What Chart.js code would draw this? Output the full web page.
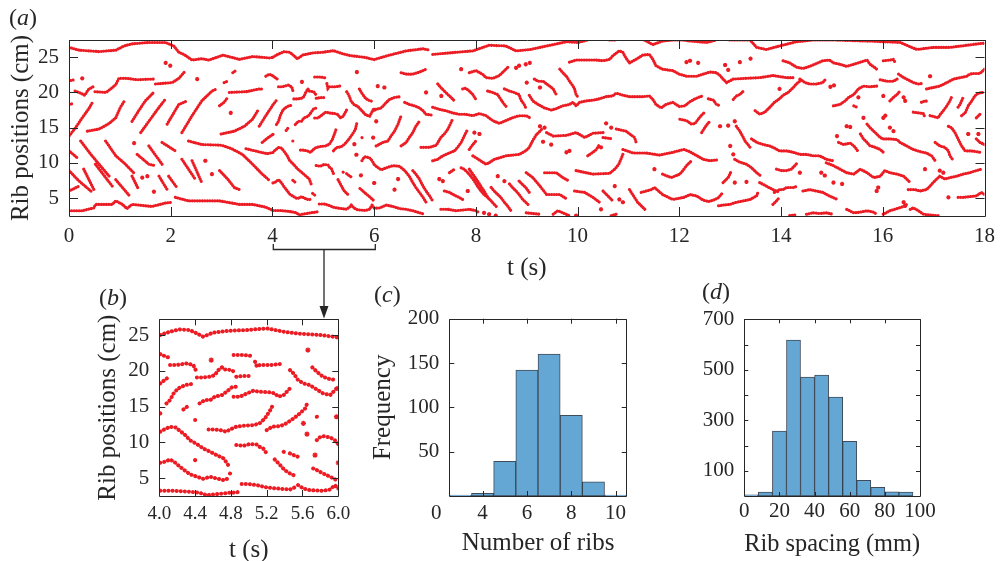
<!DOCTYPE html>
<html>
<head>
<meta charset="utf-8">
<title>Rib positions</title>
<script src="https://cdn.jsdelivr.net/npm/chart.js@4.4.1/dist/chart.umd.min.js"></script>
<style>
  html, body { margin: 0; padding: 0; background: #fff; }
  #fig { position: relative; width: 1003px; height: 561px; overflow: hidden; font-family: 'Liberation Serif', 'Times New Roman', serif; color: #262626; }
  #fig canvas { position: absolute; }
  .panel { position: absolute; font-size: 24px; line-height: 1; white-space: nowrap; }
  #fig svg { position: absolute; left: 0; top: 0; }
</style>
</head>
<body>
<div id="fig">
  <canvas id="ribsAll" width="1003" height="290" style="left:0;top:0"></canvas>
  <canvas id="ribsZoom" width="280" height="295" style="left:80px;top:280px"></canvas>
  <canvas id="ribCount" width="310" height="295" style="left:360px;top:280px"></canvas>
  <canvas id="ribSpacing" width="333" height="295" style="left:670px;top:280px"></canvas>
  <svg width="1003" height="561">
    <polyline points="273.3,244 273.3,249.5 375.3,249.5 375.3,244" fill="none" stroke="#262626" stroke-width="1.3"/>
    <line x1="324" y1="249.5" x2="324" y2="308" stroke="#262626" stroke-width="1.3"/>
    <polygon points="319.5,306 328.5,306 324,318.5" fill="#262626"/>
  </svg>
  <div class="panel" style="left:9px;top:5px">(<i>a</i>)</div>
  <div class="panel" style="left:99px;top:285px">(<i>b</i>)</div>
  <div class="panel" style="left:374px;top:282px">(<i>c</i>)</div>
  <div class="panel" style="left:702px;top:279px">(<i>d</i>)</div>
</div>
<script>
// rib tracks, [t (s), position (cm)]; one-point tracks are lone markers
const ribTracks0to4 = [
  [[0,26.4],[0.2,26.0],[0.59,25.8],[0.92,26.0],[1.08,26.6],[1.24,26.9],[1.57,27.1],[1.9,27.1],[2.06,26.6],[2.16,25.7],[2.26,25.4],[2.42,24.6],[2.61,24.8],[2.75,24.6],[3.03,25.3],[3.35,24.7],[3.61,25.1],[3.94,24.9],[4.01,25.0]],
  [[1.9,24.2]], [[1.99,23.8]],
  [[0.03,21.7],[0.1,21.8]], [[0.26,22.0]],
  [[0.12,20.2],[0.23,19.9],[0.31,19.6],[0.38,20.4],[0.47,20.8]],
  [[0.51,20.1],[0.73,20.0],[0.82,20.5],[0.92,21.1],[0.98,22.0],[1.14,22.0],[1.34,21.8],[1.67,21.9]],
  [[1.7,21.2],[2.03,21.4],[2.16,22.0],[2.28,23.0]],
  [[0,18.3],[0.07,18.4]],
  [[0,13.8],[0.13,15.0],[0.26,16.4],[0.39,17.7],[0.47,18.7]],
  [[0.36,14.5],[0.59,14.8],[0.79,15.6],[0.92,16.4],[1.01,17.9],[1.1,18.9]],
  [[1.24,15.9],[1.37,17.4],[1.5,18.8],[1.65,19.9]],
  [[1.41,14.3],[1.57,15.9],[1.73,17.5],[1.9,19.1]],
  [[1.93,15.5],[2.06,17.1],[2.16,18.3],[2.29,18.7]],
  [[2.22,14.3],[2.42,16.7],[2.61,18.8],[2.81,20.2],[2.9,20.5]],
  [[2.52,21.9]],
  [[0,11.7],[0.18,10.6]],
  [[0.23,13.1],[0.43,11.2],[0.65,9.3],[0.79,8.1]],
  [[0.72,13.1],[0.92,11.0],[1.11,9.8],[1.27,8.6]],
  [[0.52,9.8],[0.85,6.7]],
  [[0,8.9],[0.2,7.4],[0.46,5.8]],
  [[0,6.0],[0.2,6.7]],
  [[0.29,9.1],[0.49,6.2]],
  [[0.92,7.6],[1.18,5.4]],
  [[1.34,11.2],[1.57,9.8],[1.7,9.6]],
  [[1.57,12.4],[1.83,9.8]],
  [[1.83,12.9],[2.09,11.7]],
  [[2.22,10.5],[2.48,7.7]],
  [[2.35,13.1],[2.61,12.6],[3.0,12.5],[3.2,12.0],[3.41,11.2],[3.61,9.8],[3.8,8.4],[3.94,7.5]],
  [[1.24,8.1],[1.37,6.2]],
  [[1.77,8.1],[1.93,6.2]],
  [[1.96,8.1],[2.12,6.5]],
  [[2.42,10.3],[2.61,7.2]],
  [[1.28,12.8]], [[1.67,5.9]], [[1.44,7.9]], [[1.54,8.1]], [[2.68,10.3]], [[2.81,8.4]],
  [[0,3.2],[0.26,3.2],[0.49,3.6],[0.52,4.1],[0.85,4.1],[0.92,4.6],[1.05,4.1],[1.14,3.5],[1.24,4.1],[1.63,3.8],[1.9,4.3],[2.03,4.4]],
  [[2.09,5.1],[2.35,4.6],[2.68,4.6],[2.96,4.6],[3.35,4.1],[3.61,4.1],[3.87,3.7],[4.01,3.23]],
  [[3.05,21.4],[3.12,21.6]],
  [[3.22,22.8],[3.28,23.1]],
  [[3.15,20.0],[3.48,20.1],[3.74,20.5],[3.8,20.5]],
  [[2.96,18.1],[3.05,18.6],[3.12,19.3]],
  [[3.87,22.3],[3.94,22.6],[4.01,22.34]],
  [[3.18,17.1]],
  [[2.99,14.1],[3.25,14.5],[3.45,15.2],[3.61,16.2],[3.71,17.4]],
  [[3.74,15.2],[3.87,16.7],[4.01,18.24]],
  [[3.8,12.9],[3.9,13.5],[4.01,14.04]],
  [[3.48,12.0],[3.77,11.5],[3.9,11.3],[4.01,11.48]],
  [[2.96,8.9],[3.12,7.7],[3.25,6.5],[3.35,6.2]]
];

const ribTracks4to6 = [
  [[4.01,25.0],[4.12,25.47],[4.23,25.79],[4.34,25.7],[4.42,25.23],[4.49,24.77],[4.6,25.33],[4.79,25.61],[4.98,25.7],[5.2,25.93],[5.39,25.47],[5.53,25.23],[5.8,25.0],[6.0,24.67]],
  [[4.01,22.34],[4.06,22.06],[4.1,21.88]],
  [[4.12,20.8],[4.19,20.8],[4.31,21.04],[4.38,20.8],[4.41,20.01]],
  [[4.01,18.24],[4.06,18.71],[4.1,19.08]],
  [[4.08,15.44],[4.12,15.91],[4.16,16.84],[4.21,17.54],[4.29,18.01],[4.36,18.15]],
  [[4.27,14.6],[4.32,15.07]],
  [[4.4,13.11],[4.44,13.11]],
  [[4.01,14.04],[4.04,14.28]],
  [[4.42,19.08],[4.49,19.08],[4.57,19.17],[4.62,19.41],[4.66,20.1],[4.7,20.48]],
  [[4.58,21.5]],
  [[4.7,20.48],[4.72,20.2],[4.81,20.1],[4.85,19.73]],
  [[4.83,22.2],[4.94,22.2],[5.05,22.06]],
  [[5.07,21.27],[5.09,20.57],[5.12,20.8],[5.24,20.8],[5.35,20.94]],
  [[4.45,15.44],[4.51,15.91],[4.57,15.91],[4.62,16.38],[4.7,16.61],[4.75,17.07],[4.81,17.68],[4.86,17.77]],
  [[4.83,16.38],[4.9,16.38],[4.98,16.84],[5.05,17.21],[5.12,17.07],[5.24,16.98],[5.29,16.84],[5.33,16.38],[5.39,16.61],[5.46,17.54]],
  [[4.86,19.17],[4.94,19.27],[5.03,19.27]],
  [[4.55,11.81],[4.6,11.81],[4.68,11.71],[4.75,11.48],[4.79,11.81],[4.86,12.18],[4.94,12.32],[5.05,12.41],[5.12,12.65],[5.18,13.34],[5.24,14.51],[5.26,14.98]],
  [[5.2,11.71],[5.26,12.18],[5.35,12.27],[5.42,12.65],[5.5,13.34],[5.57,14.04],[5.63,14.74],[5.66,15.68]],
  [[5.46,20.1],[5.5,19.64],[5.55,18.71],[5.61,18.24],[5.68,18.01],[5.74,17.54],[5.83,16.84],[5.91,16.61],[5.98,17.54]],
  [[5.66,22.9]],
  [[5.71,20.48],[5.76,19.87],[5.83,19.17],[5.89,18.89],[5.97,18.71]],
  [[5.76,13.58],[5.8,13.49]],
  [[5.61,12.65]], [[5.65,11.15]], [[5.98,13.58]], [[6.0,17.54]],
  [[5.76,10.31],[5.8,10.78],[5.83,10.87],[5.91,10.69],[5.96,10.31],[6.0,9.76]],
  [[4.01,11.48],[4.04,11.71],[4.12,12.18],[4.18,12.09],[4.23,11.62],[4.29,11.01],[4.34,10.31],[4.42,9.76],[4.49,9.15],[4.57,8.68],[4.64,8.22],[4.72,7.75],[4.77,6.82]],
  [[4.4,7.52],[4.44,7.28]],
  [[4.01,7.14],[4.06,7.28],[4.12,7.61],[4.18,7.14],[4.23,6.59],[4.29,6.03],[4.34,5.56],[4.42,5.19],[4.49,4.91],[4.57,5.19],[4.64,4.95],[4.72,4.72],[4.77,4.95]],
  [[4.79,5.65],[4.83,5.42]],
  [[4.86,9.62],[4.94,9.52],[5.01,9.76],[5.09,9.71],[5.12,9.38],[5.16,9.15],[5.2,8.45]],
  [[5.39,8.68],[5.42,8.45]],
  [[5.29,7.61],[5.35,6.82],[5.4,6.12],[5.46,5.65],[5.5,5.42]],
  [[5.46,8.45],[5.5,8.22],[5.55,7.98]],
  [[5.72,6.35],[5.76,6.12],[5.83,5.65],[5.91,5.19],[5.98,4.72]],
  [[6.0,7.14]], [[5.74,8.22]],
  [[4.01,3.23],[4.16,3.23],[4.34,3.09],[4.45,2.95],[4.53,2.62],[4.6,2.72],[4.72,2.86],[4.79,2.95],[4.86,2.99],[4.89,3.09]],
  [[4.92,4.16],[5.01,4.16],[5.09,4.02],[5.2,3.69],[5.31,3.55],[5.46,3.41],[5.53,3.79]],
  [[5.55,4.02],[5.61,3.55],[5.68,3.32],[5.83,3.23],[5.91,3.41],[5.96,4.02],[6.0,3.55]]
];

const ribTracks6to9 = [
  [[6.0,24.67],[6.3,25.3],[6.63,25.9],[6.96,26.2],[7.1,26.0]],
  [[7.15,25.4],[7.61,25.7],[7.94,25.9],[8.26,26.7],[8.59,26.6],[8.79,25.9],[9.07,26.1],[9.39,26.6],[9.78,27.2],[10.01,27.1],[10.2,27.45]],
  [[6.53,22.8],[6.63,22.6],[6.76,22.6],[6.89,22.9],[7.02,23.3]],
  [[7.71,23.3]],
  [[7.87,22.8],[8.0,23.1],[8.13,22.6],[8.2,22.1],[8.33,22.0],[8.46,22.4],[8.59,23.3],[8.66,23.8]],
  [[8.79,23.5]], [[8.85,23.8]], [[8.98,24.0]],
  [[6.07,20.9]], [[6.2,20.7]],
  [[5.98,17.54],[6.04,17.6],[6.14,17.8],[6.24,18.6],[6.3,19.0],[6.4,19.3],[6.53,19.4]],
  [[6.6,18.6],[6.69,18.3],[6.79,18.1],[6.89,17.8],[6.96,17.4],[7.02,16.9],[7.12,16.8]],
  [[7.15,17.9],[7.28,17.6],[7.41,17.4],[7.54,17.1],[7.67,16.9],[7.8,16.9],[7.94,16.7],[8.07,17.0],[8.2,16.7],[8.33,16.0],[8.46,15.6],[8.59,16.0],[8.72,16.4],[8.85,16.7],[8.99,16.7],[9.06,16.4]],
  [[7.25,21.2],[7.31,20.7],[7.38,20.2],[7.45,19.7],[7.51,19.3],[7.58,18.8]],
  [[7.02,20.0]], [[7.32,19.5]],
  [[7.74,20.5],[7.8,20.6],[7.87,20.2],[7.94,19.7],[8.0,19.0]],
  [[8.23,20.2],[8.33,20.0],[8.43,19.7],[8.49,19.0],[8.56,18.3],[8.62,17.8]],
  [[8.56,20.5],[8.66,20.2],[8.75,20.0],[8.85,19.7],[8.88,19.0],[8.95,18.3],[8.98,17.8]],
  [[9.0,21.4]], [[6.04,15.9]],
  [[6.04,12.4],[6.17,12.9],[6.27,13.1],[6.33,13.8],[6.4,14.5],[6.47,15.5],[6.53,16.7]],
  [[6.53,12.4],[6.63,12.9],[6.69,13.6],[6.76,14.3],[6.82,15.2],[6.89,15.9]],
  [[6.92,12.2],[7.09,12.2],[7.22,12.5],[7.31,13.6],[7.38,14.1],[7.45,14.8],[7.51,15.7],[7.54,16.2]],
  [[7.15,10.3],[7.25,10.5],[7.35,11.0],[7.41,11.2],[7.51,11.5],[7.58,11.7],[7.64,12.2],[7.71,12.9],[7.77,13.8],[7.84,14.8]],
  [[7.87,11.9],[7.94,12.6],[8.0,13.1]],
  [[7.97,14.3]], [[8.07,14.1]],
  [[6.0,9.76],[6.04,9.5],[6.14,9.0],[6.24,9.3],[6.37,9.6],[6.5,9.5],[6.6,8.9],[6.69,8.1],[6.76,7.2],[6.82,6.5],[6.89,5.8],[6.96,5.1],[7.02,4.4]],
  [[6.76,8.9],[6.82,8.4],[6.89,7.7],[6.96,6.7],[7.02,6.0],[7.09,5.3],[7.15,4.6]],
  [[6.4,6.2]], [[6.47,7.7]], [[7.28,7.7]], [[7.35,7.4]],
  [[7.38,6.0],[7.48,5.8],[7.58,5.4],[7.67,5.1],[7.74,4.8]],
  [[7.48,8.6],[7.58,9.1]],
  [[7.71,9.3],[7.77,9.1],[7.84,8.6],[7.9,8.1],[7.97,7.4],[8.03,6.7],[8.1,6.0],[8.16,5.5],[8.23,5.1],[8.3,4.6],[8.36,4.1],[8.43,3.6]],
  [[7.87,9.1],[7.97,8.1],[8.07,7.0],[8.16,6.0],[8.26,4.8]],
  [[8.3,6.5],[8.36,6.0],[8.43,5.5],[8.49,5.1],[8.56,4.4],[8.62,3.9],[8.69,3.2]],
  [[8.43,8.1]], [[8.56,7.4]], [[7.84,6.0]],
  [[8.66,7.0],[8.72,6.5],[8.79,6.0],[8.85,5.5],[8.92,4.8],[8.98,4.4],[9.05,3.9]],
  [[8.85,7.4],[8.92,6.9],[8.98,6.5],[9.05,5.8]],
  [[7.94,11.0],[8.07,10.4],[8.2,9.8],[8.26,10.0],[8.36,10.5],[8.46,10.7],[8.59,11.0],[8.72,11.1],[8.85,11.2],[8.98,11.7],[9.05,12.2],[9.12,13.2],[9.19,14.0],[9.26,14.5],[9.32,15.0]],
  [[6.0,3.55],[6.11,3.6],[6.24,4.0],[6.37,3.8],[6.5,3.5],[6.63,3.4],[6.76,3.2],[6.89,2.9],[6.99,2.7]],
  [[7.31,3.4],[7.45,3.4],[7.61,3.2],[7.74,3.3],[7.87,3.4],[8.0,3.2],[8.07,2.9]],
  [[8.16,2.9]], [[8.26,2.7]], [[8.39,2.5]]
];

const ribTracks9to12 = [
  [[10.63,27.45],[10.76,27.45]],
  [[11.31,27.45],[11.48,26.8],[11.67,27.3],[11.87,27.45],[12.09,27.45],[12.21,27.3],[12.54,27.1],[12.73,27.45]],
  [[9.84,24.3],[9.97,24.6],[10.17,24.6],[10.37,24.6],[10.5,24.5],[10.63,24.7],[10.69,25.2],[10.82,25.9],[10.89,25.7],[10.95,24.9],[11.02,24.2],[11.15,24.7],[11.28,25.3],[11.41,25.4],[11.48,24.7],[11.54,23.8],[11.67,23.3],[11.87,23.1],[12.0,22.6],[12.14,22.3],[12.34,22.3],[12.47,22.6],[12.6,22.9],[12.73,22.8],[12.8,22.4],[12.86,21.9],[12.93,21.4],[13.06,21.9],[13.32,22.0],[13.58,22.1],[13.84,22.4],[14.11,22.1],[14.24,22.1]],
  [[9.06,24.2]],
  [[9.65,23.3],[9.71,22.8],[9.78,22.3],[9.84,21.6],[9.91,20.9],[9.94,20.5],[9.97,19.7],[10.01,19.3]],
  [[9.15,21.9],[9.22,21.6],[9.32,21.6],[9.39,21.2],[9.45,20.9],[9.52,20.5],[9.58,19.7]],
  [[9.26,20.7]],
  [[9.05,19.6],[9.12,18.8],[9.22,18.3],[9.35,17.8],[9.48,17.5],[9.58,17.7],[9.71,18.1],[9.84,18.3],[9.91,18.6],[9.97,18.1],[10.04,18.6],[10.17,18.8],[10.3,18.9],[10.43,19.1],[10.56,19.4],[10.69,19.5],[10.76,19.9],[10.89,19.6],[11.02,19.4],[11.15,19.4],[11.28,19.4],[11.41,19.5],[11.48,19.0],[11.54,18.3],[11.64,17.8],[11.74,18.3],[11.87,18.6],[12.0,18.0],[12.11,18.1],[12.21,18.7],[12.31,19.1],[12.41,19.4],[12.47,19.5]],
  [[9.26,15.2]], [[9.35,15.0]], [[9.32,13.0]], [[9.48,12.6]],
  [[9.39,14.3],[9.52,13.8],[9.78,13.9],[9.97,14.3],[10.14,13.6],[10.3,14.2],[10.5,14.3]],
  [[10.5,13.6],[10.69,13.4]],
  [[10.46,12.2]], [[10.56,15.6]], [[10.66,15.0]],
  [[10.76,14.8],[10.95,14.5],[11.12,13.6],[11.15,12.9]],
  [[10.89,11.9],[11.09,11.4],[11.35,11.4],[11.61,11.1],[11.87,11.5],[12.09,11.9],[12.2,11.6],[12.35,11.0],[12.47,10.5],[12.6,10.3],[12.73,10.4]],
  [[8.99,8.6],[9.12,7.9],[9.26,6.7],[9.39,5.5],[9.65,5.5],[9.78,4.9]],
  [[9.35,8.6],[9.58,8.6],[9.71,7.9],[9.84,7.4]],
  [[9.78,11.5]], [[9.84,11.7]],
  [[10.2,11.0],[10.3,11.5],[10.37,11.9],[10.43,12.6]],
  [[9.97,8.9],[10.3,8.4],[10.63,8.5],[10.73,9.1],[10.81,9.8],[10.89,11.2]],
  [[9.94,6.0],[10.14,5.8],[10.3,5.1],[10.43,4.4]],
  [[10.5,6.0],[10.69,4.6]],
  [[11.02,6.2],[11.18,4.4],[11.35,3.2]],
  [[11.25,5.8],[11.45,6.2],[11.51,6.5],[11.67,5.5],[11.87,4.8],[12.09,5.1],[12.21,5.5],[12.34,5.3],[12.47,4.7],[12.57,4.5],[12.67,4.7],[12.76,5.0],[12.86,5.8]],
  [[11.67,8.4],[11.84,7.9],[12.01,8.4],[12.08,9.0],[12.14,9.6],[12.24,10.3]],
  [[11.51,9.1]], [[10.73,6.7]], [[10.82,4.8]], [[10.89,4.4]], [[10.46,3.4]],
  [[8.99,2.9],[9.26,2.7]],
  [[9.52,2.7],[9.61,3.2],[9.84,2.5]],
  [[9.97,2.5]],
  [[10.66,2.5],[10.76,2.7]]
];

const ribTracks12to15 = [
  [[12.99,27.45],[13.39,27.45],[13.52,26.4],[13.71,26.1],[13.97,26.6],[14.3,27.2],[14.63,27.45],[15.03,27.45],[15.69,27.3],[16.34,27.1],[16.67,26.1],[16.99,26.4],[17.32,26.4],[17.65,26.7],[17.97,27.0],[18.0,26.9]],
  [[12.14,24.3]], [[12.21,24.5]], [[12.37,24.2]], [[12.9,23.9]], [[12.96,23.2]], [[13.19,24.3]], [[13.4,24.8]],
  [[14.04,24.5],[14.17,24.2],[14.3,23.6],[14.43,23.4],[14.56,23.7],[14.69,24.1],[14.82,24.5],[14.95,24.6],[15.03,24.2],[15.16,24.0],[15.29,23.7],[15.43,24.0],[15.56,24.3],[15.69,24.6],[15.75,24.0],[15.85,23.5],[15.88,23.3]],
  [[14.37,21.9],[14.47,21.4],[14.56,21.2],[14.69,21.2],[14.82,21.4],[14.89,22.0]],
  [[14.97,20.8]], [[15.04,21.0]],
  [[12.57,19.1],[12.67,18.9],[12.73,18.3],[12.8,18.1]],
  [[13.06,19.0],[13.12,19.5],[13.19,19.7],[13.26,20.2]],
  [[13.49,17.4],[13.58,16.9],[13.68,17.2],[13.78,17.9],[13.87,18.6],[13.97,19.1],[14.04,19.6],[14.14,20.0],[14.24,20.7],[14.3,21.2],[14.37,21.6]],
  [[13.97,20.5]],
  [[12.01,16.2],[12.14,16.0],[12.24,15.5],[12.31,15.6],[12.37,16.2],[12.44,16.8],[12.5,17.2]],
  [[12.44,14.3],[12.5,15.0],[12.57,15.7],[12.6,15.8]],
  [[12.8,15.2]], [[12.96,15.3]], [[13.09,15.9]],
  [[13.12,15.2],[13.19,14.5],[13.22,14.1],[13.26,13.6],[13.29,13.1],[13.35,12.6],[13.39,12.2]],
  [[13.42,13.4],[13.52,12.9],[13.65,12.6],[13.78,12.4],[13.84,12.2],[13.97,11.7],[14.11,11.7],[14.24,11.5],[14.37,11.2],[14.5,11.2],[14.63,11.0],[14.76,11.0],[14.89,10.5],[15.02,10.3]],
  [[13.09,10.5],[13.19,10.1],[13.32,9.8],[13.42,9.3],[13.52,8.6],[13.61,8.1]],
  [[13.0,12.4]], [[13.06,11.2]],
  [[13.91,9.1],[14.01,8.9],[14.11,8.9],[14.2,9.1],[14.27,9.6],[14.33,10.1]],
  [[14.37,8.6]], [[14.79,8.6]], [[14.86,8.2]],
  [[13.58,7.2],[13.71,6.7],[13.84,6.2],[13.97,5.8]],
  [[12.86,7.2],[12.96,7.9],[13.02,8.8]],
  [[13.09,7.2]], [[13.32,7.3]],
  [[12.77,3.9],[12.86,4.0],[13.0,4.1],[13.12,4.4],[13.26,4.6],[13.39,4.8],[13.52,5.3],[13.55,5.9]],
  [[13.87,5.8],[13.97,6.2],[14.04,6.2],[14.11,6.5],[14.24,6.5],[14.33,6.7]],
  [[13.84,4.1],[13.91,4.6],[13.97,5.1]],
  [[14.43,6.0],[14.56,6.2],[14.69,6.0],[14.82,5.8],[14.95,5.3],[15.11,4.8]],
  [[14.17,2.5],[14.27,2.6]],
  [[14.5,2.7],[14.63,2.9],[14.76,2.8],[14.89,2.9],[15.02,2.7]]
];

const ribTracks15to18 = [
  [[16.01,24.5],[16.14,24.6],[16.21,24.7],[16.24,24.3]],
  [[16.31,22.6],[16.41,22.1],[16.47,21.9],[16.6,21.4],[16.7,21.2],[16.8,21.3]],
  [[15.95,21.8],[16.08,21.6],[16.21,21.6],[16.28,21.9]],
  [[16.93,22.3]],
  [[16.86,20.5],[16.99,20.7],[17.12,20.9],[17.26,21.4],[17.39,21.9],[17.52,22.1],[17.65,22.3],[17.71,22.6],[17.78,22.7],[17.91,22.7],[18.0,23.3]],
  [[15.03,18.1],[15.16,18.3],[15.26,18.8],[15.33,19.3],[15.43,19.7],[15.52,20.5],[15.62,20.9],[15.75,20.8],[15.88,20.9]],
  [[15.43,18.1],[15.49,17.9]],
  [[15.52,19.3]], [[16.01,19.5]],
  [[16.14,18.8],[16.21,19.3],[16.28,19.7],[16.34,20.2]],
  [[16.41,19.3]], [[16.44,18.8]],
  [[16.6,17.2],[16.7,17.1],[16.8,17.0],[16.83,16.4]],
  [[16.76,18.6],[16.83,18.8],[16.9,18.7]],
  [[16.93,16.7],[16.99,16.6],[17.09,16.4],[17.12,16.8],[17.19,17.4],[17.26,18.1],[17.32,18.8],[17.35,19.3]],
  [[17.48,17.9],[17.52,18.3],[17.58,19.3]],
  [[17.55,16.7],[17.62,17.1],[17.68,18.1],[17.75,18.8],[17.81,19.5],[17.88,19.9],[17.97,20.0],[18.0,20.1]],
  [[17.84,16.4],[17.91,16.9]],
  [[15.29,15.2]], [[15.36,15.1]], [[16.01,16.4]], [[16.05,16.7]], [[15.62,16.4]], [[15.1,13.8]],
  [[15.69,15.5],[15.75,15.0],[15.82,14.5],[15.88,14.1],[15.95,13.6],[16.01,13.4],[16.14,13.4],[16.28,13.3],[16.34,12.9],[16.47,12.4],[16.6,11.9],[16.73,11.6],[16.86,11.4],[16.96,11.0],[17.03,10.3]],
  [[15.56,14.1],[15.62,13.4],[15.69,12.9],[15.75,12.4],[15.82,12.3],[15.95,11.9],[16.01,11.5]],
  [[15.13,12.9],[15.23,12.6],[15.36,12.8],[15.43,12.4],[15.49,11.9],[15.52,11.5]],
  [[16.14,15.0]], [[16.21,14.5]],
  [[17.03,12.9],[17.12,12.4],[17.22,12.2],[17.29,11.7],[17.32,11.0],[17.39,10.3]],
  [[17.29,15.2],[17.35,15.0],[17.42,14.3],[17.48,13.4],[17.55,12.4],[17.62,11.7],[17.71,11.7],[17.84,11.6],[17.91,11.5]],
  [[17.68,14.1]], [[17.88,14.1]],
  [[17.84,13.4],[17.91,12.9],[18.0,12.6]],
  [[14.89,10.0],[15.03,9.6],[15.16,9.1],[15.29,8.6],[15.43,8.4],[15.56,9.1],[15.69,8.6],[15.82,7.9],[15.95,8.1],[16.04,8.9],[16.14,8.6],[16.28,8.4],[16.41,8.1],[16.54,7.2]],
  [[15.03,7.2]], [[15.2,7.0]], [[15.88,6.0]], [[15.91,6.5]],
  [[16.5,6.2],[16.63,6.2],[16.73,6.0],[16.86,6.2],[16.93,6.7],[16.99,7.2],[17.06,7.7],[17.12,8.1],[17.22,7.7],[17.32,7.9],[17.45,8.1],[17.58,8.4],[17.71,8.6],[17.84,8.9],[17.94,9.1]],
  [[16.83,9.1]], [[17.12,8.9]], [[17.19,8.6]], [[17.29,5.1]], [[16.41,4.4]], [[16.44,3.9]],
  [[17.48,5.1],[17.58,5.1],[17.71,5.2],[17.84,5.3],[17.94,5.8],[18.0,5.5]],
  [[15.29,3.4],[15.43,2.9],[15.56,3.0],[15.69,3.2],[15.82,3.0],[15.88,2.7]],
  [[16.01,2.7],[16.14,3.2],[16.28,3.5],[16.41,3.8],[16.47,4.1]],
  [[16.54,3.4],[16.6,3.6],[16.7,3.2],[16.8,2.7],[16.93,2.6],[17.06,2.5],[17.12,2.5]]
];

// histograms
const ribCountBins = [3, 4, 5, 6, 7, 8, 9, 10];
const ribCountFreq = [1, 3, 39, 142, 160, 91, 16, 1];
const spacingBins = [4, 12, 20, 28, 36, 44, 52, 60, 68, 76, 84, 92];   // bin centres, 8 mm wide
const spacingFreq = [5, 16, 257, 618, 471, 479, 392, 217, 62, 34, 17, 16];

// ticks
const timeTicksA = [0, 2, 4, 6, 8, 10, 12, 14, 16, 18];
const timeTicksB = [4.0, 4.4, 4.8, 5.2, 5.6, 6.0];
const posTicks = [5, 10, 15, 20, 25];
const countTicks = [4, 6, 8, 10];
const freqTicks = [50, 100, 150, 200];
const spacingTicks = [0, 20, 40, 60, 80, 100];
const spacingFreqTicks = [100, 200, 300, 400, 500, 600, 700];

const ribColor = 'rgb(236, 28, 36)';
const ink = '#262626';
const barFill = 'rgb(100, 167, 213)';
const barEdge = 'rgba(30, 45, 60, 0.85)';

Chart.defaults.font.family = "'Liberation Serif', 'Times New Roman', serif";
Chart.defaults.color = ink;

const allTracks = [].concat(ribTracks0to4, ribTracks4to6, ribTracks6to9, ribTracks9to12, ribTracks12to15, ribTracks15to18);

function trackLine(tracks) {
  const pts = [];
  tracks.filter(tr => tr.length > 1).forEach(tr => {
    tr.forEach(p => pts.push({ x: p[0], y: p[1] }));
    pts.push({ x: tr[tr.length - 1][0], y: null });   // break between tracks
  });
  return pts;
}
function lonePoints(tracks) {
  return tracks.filter(tr => tr.length === 1).map(tr => ({ x: tr[0][0], y: tr[0][1] }));
}
function setTicks(values) {
  return scale => { scale.ticks = values.map(v => ({ value: v })); };
}

// box round the plot with inward ticks on all four sides
const framePlugin = {
  id: 'frame',
  afterDraw(chart, args, opts) {
    const { ctx, chartArea: a } = chart;
    const xs = chart.scales.x, ys = chart.scales.y;
    const len = opts.tick || 5;
    const snap = v => Math.round(v) + 0.5;
    ctx.save();
    ctx.strokeStyle = ink;
    ctx.lineWidth = 1;
    ctx.beginPath();
    xs.ticks.forEach(t => {
      const px = snap(xs.getPixelForValue(t.value));
      ctx.moveTo(px, a.bottom); ctx.lineTo(px, a.bottom - len);
      ctx.moveTo(px, a.top); ctx.lineTo(px, a.top + len);
    });
    ys.ticks.forEach(t => {
      const py = snap(ys.getPixelForValue(t.value));
      ctx.moveTo(a.left, py); ctx.lineTo(a.left + len, py);
      ctx.moveTo(a.right, py); ctx.lineTo(a.right - len, py);
    });
    ctx.rect(snap(a.left), snap(a.top), Math.round(a.right - a.left), Math.round(a.bottom - a.top));
    ctx.stroke();
    if (opts.extraLabel) {
      const e = opts.extraLabel;
      ctx.fillStyle = ink;
      ctx.font = "21px 'Liberation Serif', serif";
      ctx.textAlign = 'center';
      ctx.textBaseline = 'middle';
      ctx.fillText(e.text, a.left + e.dx, a.bottom + e.dy);
    }
    ctx.restore();
  }
};

function axis(opts) {
  return Object.assign({
    type: 'linear',
    grid: { display: false, drawTicks: false },
    border: { display: false }
  }, opts);
}

function ribChart(id, cfg) {
  return new Chart(document.getElementById(id), {
    type: 'line',
    data: {
      datasets: [
        { data: trackLine(allTracks), borderColor: ribColor, borderWidth: cfg.dot, borderDash: cfg.dash,
          borderCapStyle: 'round', pointRadius: 0, spanGaps: false, tension: 0 },
        { data: lonePoints(allTracks), showLine: false, pointStyle: 'star', pointRadius: cfg.star,
          pointBorderWidth: 1.3, pointBorderColor: ribColor, pointBackgroundColor: ribColor }
      ]
    },
    options: {
      responsive: false, animation: false, events: [], devicePixelRatio: 1,
      layout: { padding: cfg.padding },
      plugins: { legend: { display: false }, tooltip: { enabled: false }, frame: { tick: cfg.tick } },
      scales: {
        x: axis({
          min: cfg.xRange[0], max: cfg.xRange[1],
          afterBuildTicks: setTicks(cfg.xTicks),
          afterFit: s => { s.height = cfg.xHeight; },
          ticks: { padding: cfg.xTickPad, font: { size: cfg.xTickSize }, maxRotation: 0, autoSkip: false, callback: cfg.xFormat },
          title: { display: true, text: 't (s)', font: { size: 25 }, padding: { top: 0, bottom: cfg.xTitlePad } }
        }),
        y: axis({
          min: cfg.yRange[0], max: cfg.yRange[1],
          afterBuildTicks: setTicks(posTicks),
          afterFit: s => { s.width = cfg.yWidth; },
          ticks: { padding: 10, font: { size: 21 }, autoSkip: false },
          title: { display: true, text: 'Rib positions (cm)', font: { size: 25 }, padding: { top: cfg.yTitlePad, bottom: 0 } }
        })
      }
    },
    plugins: [framePlugin]
  });
}

// (a) whole record
ribChart('ribsAll', {
  dot: 3.1, dash: [0.1, 2.4], star: 2.1, tick: 9,
  padding: { left: 0, right: 15, top: 40, bottom: 0 },
  xRange: [0, 18], xTicks: timeTicksA, xHeight: 74, xTickPad: 8, xTickSize: 21, xTitlePad: 7,
  xFormat: v => String(v),
  yRange: [2.45, 27.45], yWidth: 69, yTitlePad: 6
});

// (b) 4 to 6 s
ribChart('ribsZoom', {
  dot: 4.0, dash: [0.1, 4.0], star: 2.6, tick: 6,
  padding: { left: 0, right: 21.7, top: 39.3, bottom: 0 },
  xRange: [4, 6], xTicks: timeTicksB, xHeight: 79, xTickPad: 7, xTickSize: 19, xTitlePad: 10,
  xFormat: v => v.toFixed(1),
  yRange: [2.5, 27.2], yWidth: 79.3, yTitlePad: 13
});

function histChart(id, cfg) {
  return new Chart(document.getElementById(id), {
    type: 'bar',
    data: {
      datasets: [{
        data: cfg.bins.map((b, i) => ({ x: b, y: cfg.freq[i] })),
        backgroundColor: barFill, borderColor: barEdge, borderWidth: 1, borderSkipped: false,
        barPercentage: 1, categoryPercentage: 1
      }]
    },
    options: {
      responsive: false, animation: false, events: [], devicePixelRatio: 1,
      layout: { padding: cfg.padding },
      plugins: { legend: { display: false }, tooltip: { enabled: false }, frame: { tick: cfg.tick, extraLabel: cfg.extraLabel } },
      scales: {
        x: axis({
          offset: false, min: cfg.xRange[0], max: cfg.xRange[1],
          afterBuildTicks: setTicks(cfg.xTicks),
          afterFit: s => { s.height = 79; },
          ticks: { padding: cfg.xTickPad, font: { size: 21 }, maxRotation: 0, autoSkip: false },
          title: { display: true, text: cfg.xTitle, font: { size: 25 }, padding: { top: 0, bottom: cfg.xTitlePad } }
        }),
        y: axis({
          min: cfg.yRange[0], max: cfg.yRange[1],
          afterBuildTicks: setTicks(cfg.yTicks),
          afterFit: s => { s.width = cfg.yWidth; },
          ticks: { padding: 10, font: { size: 21 }, autoSkip: false, callback: cfg.yFormat },
          title: { display: !!cfg.yTitle, text: cfg.yTitle || '', font: { size: 25 }, padding: { top: 8, bottom: 0 } }
        })
      }
    },
    plugins: [framePlugin]
  });
}

// (c) number of ribs
histChart('ribCount', {
  bins: ribCountBins, freq: ribCountFreq, tick: 5,
  padding: { left: 0, right: 43.3, top: 38.7, bottom: 0 },
  xRange: [2.5, 10.5], xTicks: countTicks, xTickPad: 5, xTitle: 'Number of ribs', xTitlePad: 17,
  yRange: [0, 200], yTicks: freqTicks, yWidth: 89.3, yTitle: 'Frequency',
  yFormat: v => String(v),
  extraLabel: { text: '0', dx: -13, dy: 17 }
});

// (d) rib spacing
histChart('ribSpacing', {
  bins: spacingBins, freq: spacingFreq, tick: 4,
  padding: { left: 0, right: 83, top: 39.3, bottom: 0 },
  xRange: [0, 100], xTicks: spacingTicks, xTickPad: 3, xTitle: 'Rib spacing (mm)', xTitlePad: 16,
  yRange: [0, 700], yTicks: spacingFreqTicks, yWidth: 74.3,
  yFormat: v => ((v / 100) % 2 === 1 ? String(v) : '')
});
</script>
</body>
</html>
